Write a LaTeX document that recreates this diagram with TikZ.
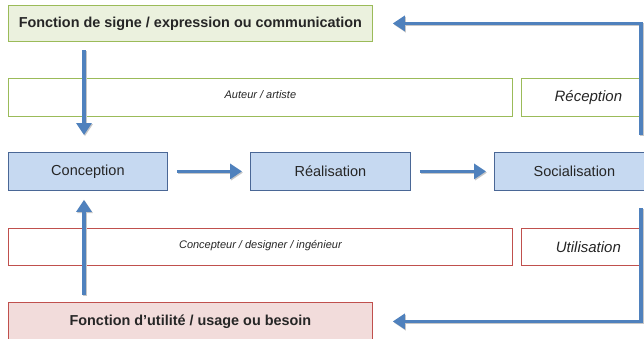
\documentclass[tikz,border=0pt]{standalone}
\usepackage{fontspec}
\setmainfont{Liberation Sans}
\usetikzlibrary{arrows.meta}
\definecolor{gfill}{HTML}{EBF1DE}
\definecolor{gline}{HTML}{9BBB59}
\definecolor{bfill}{HTML}{C6D9F1}
\definecolor{bline}{HTML}{4A6796}
\definecolor{rfill}{HTML}{F2DCDB}
\definecolor{rline}{HTML}{C0504D}
\definecolor{arrblue}{HTML}{4F81BD}
\tikzset{
  box/.style={draw, line width=0.8pt, inner sep=0pt, anchor=north west, text=black!85},
  greenbox/.style={box, draw=gline, fill=gfill, font=\bfseries\fontsize{14.4}{16}\selectfont},
  redbox/.style={box, draw=rline, fill=rfill, font=\bfseries\fontsize{14.4}{16}\selectfont},
  bluebox/.style={box, draw=bline, fill=bfill, font=\fontsize{14.5}{16}\selectfont},
  gthin/.style={box, draw=gline, fill=white},
  rthin/.style={box, draw=rline, fill=white},
  smallit/.style={font=\itshape\fontsize{11}{12}\selectfont},
  bigit/.style={font=\itshape\fontsize{15}{16}\selectfont},
  arr/.style={draw=arrblue, line width=3.4pt, -{Triangle[width=15pt,length=12pt]}},
  shadowarr/.style={draw=black!22, line width=3.4pt, -{Triangle[width=15pt,length=12pt]}, transform canvas={xshift=1pt,yshift=-1.2pt}},
}
\begin{document}
\begin{tikzpicture}[x=1pt,y=-1pt]
\clip (0,0) rectangle (644,338);
\useasboundingbox (0,0) rectangle (644,338);
% boxes
\node[greenbox, minimum width=364pt, minimum height=36pt] (signe) at (8,5) {\raisebox{1pt}{Fonction de signe / expression ou communication}};
\node[gthin, smallit, minimum width=504pt, minimum height=38pt] (auteur) at (8,78) {\raisebox{6pt}{Auteur / artiste}};
\node[gthin, bigit, minimum width=122pt, minimum height=38pt] (recep) at (521,78) {\hspace*{12pt}Réception};
\node[bluebox, minimum width=159pt, minimum height=38pt] (conc) at (8,152) {Conception};
\node[bluebox, minimum width=160pt, minimum height=38pt] (real) at (250,152) {Réalisation};
\node[bluebox, minimum width=160pt, minimum height=38pt] (soc) at (494,152) {Socialisation};
\node[rthin, smallit, minimum width=504pt, minimum height=37pt] (concep) at (8,228) {\raisebox{5pt}{Concepteur / designer / ingénieur}};
\node[rthin, bigit, minimum width=122pt, minimum height=37pt] (util) at (521,228) {\hspace*{12pt}Utilisation};
\node[redbox, minimum width=364pt, minimum height=38pt] (usage) at (8,302) {Fonction d'utilité / usage ou besoin};
% coordinates
\coordinate (rtop) at (641,135);
\coordinate (rbot) at (641,208);
\coordinate (dtop) at (84,50);
\coordinate (dbot) at (84,295);
% shadows
\draw[shadowarr, shorten >=17pt] (dtop) -- (dtop |- conc.north);
\draw[shadowarr, shorten >=9pt] (dbot) -- (dbot |- conc.south);
\draw[shadowarr, shorten <=9pt, shorten >=8pt] (conc.east) -- (real.west);
\draw[shadowarr, shorten <=9pt, shorten >=8pt] (real.east) -- (soc.west);
\draw[shadowarr, shorten >=20pt] (rtop) |- (signe.east);
\draw[shadowarr, shorten >=20pt] (rbot) |- (usage.east);
% arrows
\draw[arr, shorten >=17pt] (dtop) -- (dtop |- conc.north);
\draw[arr, shorten >=9pt] (dbot) -- (dbot |- conc.south);
\draw[arr, shorten <=9pt, shorten >=8pt] (conc.east) -- (real.west);
\draw[arr, shorten <=9pt, shorten >=8pt] (real.east) -- (soc.west);
\draw[arr, shorten >=20pt] (rtop) |- (signe.east);
\draw[arr, shorten >=20pt] (rbot) |- (usage.east);
\end{tikzpicture}
\end{document}
